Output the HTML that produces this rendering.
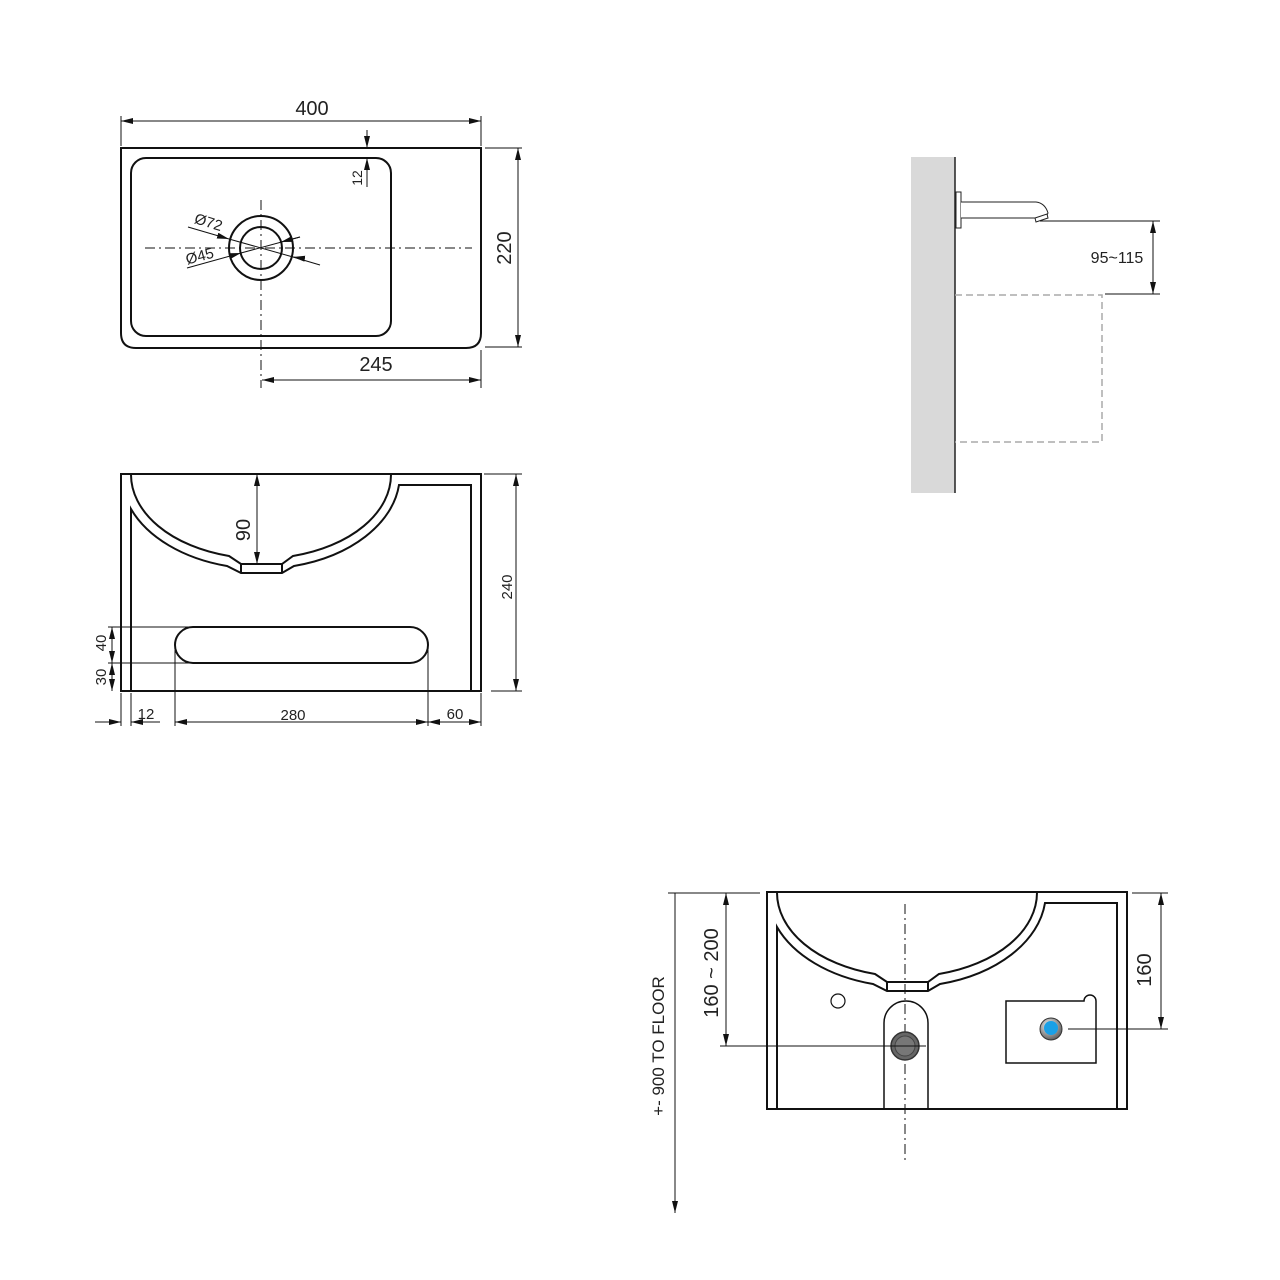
<!DOCTYPE html>
<html><head><meta charset="utf-8"><style>
html,body{margin:0;padding:0;background:#fff;}
svg{display:block;}
text{font-family:"Liberation Sans",Arial,sans-serif;fill:#222;}
</style></head><body>
<svg width="1280" height="1280" viewBox="0 0 1280 1280" xmlns="http://www.w3.org/2000/svg">
<defs>
<marker id="a" viewBox="0 0 12 6" refX="12" refY="3" markerWidth="12" markerHeight="6" markerUnits="userSpaceOnUse" orient="auto-start-reverse"><path d="M0,0 L12,3 L0,6 Z" fill="#111"/></marker>
<radialGradient id="gb" cx="0.4" cy="0.35" r="0.7"><stop offset="0" stop-color="#f4f4f4"/><stop offset="1" stop-color="#555"/></radialGradient>
</defs>

<!-- ============ TOP VIEW ============ -->
<g fill="none" stroke="#111">
<path d="M121,148 L481,148 L481,333 Q481,348 466,348 L136,348 Q121,348 121,333 Z" stroke-width="2"/>
<rect x="131" y="158" width="260" height="178" rx="15" stroke-width="2"/>
<circle cx="261" cy="248" r="32" stroke-width="2"/>
<circle cx="261" cy="248" r="21" stroke-width="2"/>
<g stroke-width="1" stroke-dasharray="10,4,2,4">
<line x1="145" y1="248" x2="472" y2="248"/>
<line x1="261" y1="200" x2="261" y2="388"/>
</g>
<g stroke-width="1">
<!-- 400 -->
<line x1="121" y1="116" x2="121" y2="146"/><line x1="481" y1="116" x2="481" y2="146"/>
<line x1="121" y1="121" x2="481" y2="121" marker-start="url(#a)" marker-end="url(#a)"/>
<!-- 12 -->
<line x1="367" y1="130" x2="367" y2="148" marker-end="url(#a)"/>
<line x1="367" y1="187" x2="367" y2="158" marker-end="url(#a)"/>
<!-- 220 -->
<line x1="485" y1="148" x2="522" y2="148"/><line x1="485" y1="347" x2="522" y2="347"/>
<line x1="518" y1="148" x2="518" y2="347" marker-start="url(#a)" marker-end="url(#a)"/>
<!-- 245 -->
<line x1="481" y1="350" x2="481" y2="388"/>
<line x1="262" y1="380" x2="481" y2="380" marker-start="url(#a)" marker-end="url(#a)"/>
<!-- diameters -->
<line x1="188" y1="227" x2="229" y2="239" marker-end="url(#a)"/>
<line x1="320" y1="265" x2="293" y2="257" />
<line x1="300" y1="258" x2="293" y2="257" marker-end="url(#a)"/>
<line x1="229" y1="239" x2="293" y2="257"/>
<line x1="187" y1="268" x2="241" y2="253" marker-end="url(#a)"/>
<line x1="241" y1="253" x2="300" y2="237"/>
<line x1="300" y1="237" x2="281" y2="242" marker-end="url(#a)"/>
</g>
</g>
<text x="312" y="115" font-size="20" text-anchor="middle">400</text>
<text transform="translate(362,178) rotate(-90)" font-size="14" text-anchor="middle">12</text>
<text transform="translate(511,248) rotate(-90)" font-size="20" text-anchor="middle">220</text>
<text x="376" y="371" font-size="20" text-anchor="middle">245</text>
<text transform="translate(207,227) rotate(17)" font-size="15" text-anchor="middle">Ø72</text>
<text transform="translate(201,261) rotate(-15)" font-size="15" text-anchor="middle">Ø45</text>

<!-- ============ FRONT VIEW ============ -->
<g id="bowl" fill="none" stroke="#111" stroke-width="2">
<path d="M121,691 L121,474 L481,474 L481,691 Z"/>
<path d="M131,474 A130,84 0 0 0 229,556 L241,564 L282,564 L293,556 A130,84 0 0 0 391,474"/>
<path d="M131,691 L131,509 A140,94 0 0 0 227,566 L241,573 L282,573 L294,566 A140,94 0 0 0 399,485 L471,485 L471,691"/>
<line x1="241" y1="564" x2="241" y2="573"/><line x1="282" y1="564" x2="282" y2="573"/>
</g>
<g fill="none" stroke="#111">
<path d="M193,627 L410,627 A18,18 0 0 1 410,663 L193,663 A18,18 0 0 1 193,627 Z" stroke-width="2"/>
<g stroke-width="1">
<line x1="257" y1="474" x2="257" y2="564" marker-start="url(#a)" marker-end="url(#a)"/>
<line x1="484" y1="474" x2="522" y2="474"/><line x1="491" y1="691" x2="522" y2="691"/>
<line x1="516" y1="474" x2="516" y2="691" marker-start="url(#a)" marker-end="url(#a)"/>
<line x1="108" y1="627" x2="193" y2="627"/><line x1="108" y1="663" x2="193" y2="663"/>
<line x1="112" y1="627" x2="112" y2="663" marker-start="url(#a)" marker-end="url(#a)"/>
<line x1="112" y1="663" x2="112" y2="691" marker-start="url(#a)" marker-end="url(#a)"/>
<line x1="121" y1="693" x2="121" y2="726"/><line x1="131" y1="693" x2="131" y2="726"/>
<line x1="175" y1="650" x2="175" y2="726"/><line x1="428" y1="650" x2="428" y2="726"/>
<line x1="481" y1="693" x2="481" y2="726"/>
<line x1="95" y1="722" x2="121" y2="722" marker-end="url(#a)"/>
<line x1="160" y1="722" x2="131" y2="722" marker-end="url(#a)"/>
<line x1="175" y1="722" x2="428" y2="722" marker-start="url(#a)" marker-end="url(#a)"/>
<line x1="428" y1="722" x2="481" y2="722" marker-start="url(#a)" marker-end="url(#a)"/>
</g>
</g>
<text transform="translate(250,530) rotate(-90)" font-size="20" text-anchor="middle">90</text>
<text transform="translate(512,587) rotate(-90)" font-size="15" text-anchor="middle">240</text>
<text transform="translate(106,643) rotate(-90)" font-size="15" text-anchor="middle">40</text>
<text transform="translate(106,677) rotate(-90)" font-size="15" text-anchor="middle">30</text>
<text x="146" y="719" font-size="15" text-anchor="middle">12</text>
<text x="293" y="720" font-size="15" text-anchor="middle">280</text>
<text x="455" y="719" font-size="15" text-anchor="middle">60</text>

<!-- ============ SIDE VIEW ============ -->
<rect x="911" y="157" width="44" height="336" fill="#d9d9d9"/>
<line x1="955" y1="157" x2="955" y2="493" stroke="#222" stroke-width="1.5"/>
<rect x="956" y="192" width="5" height="36" fill="#fff" stroke="#222" stroke-width="1"/>
<path d="M961,202 L1036,202 Q1045,203 1048,213 L1047,215 L1036,218 L961,218" fill="#fff" stroke="#222" stroke-width="1"/>
<path d="M1035,218 L1047,214 L1048,218 L1036,222 Z" fill="#fff" stroke="#222" stroke-width="1"/>
<path d="M955,295 L1102,295 L1102,442 L955,442" fill="none" stroke="#aaa" stroke-width="1.5" stroke-dasharray="7,4"/>
<g stroke="#111" stroke-width="1">
<line x1="1040" y1="221" x2="1160" y2="221"/>
<line x1="1105" y1="294" x2="1160" y2="294"/>
<line x1="1153" y1="221" x2="1153" y2="294" marker-start="url(#a)" marker-end="url(#a)"/>
</g>
<text x="1117" y="263" font-size="16" text-anchor="middle">95~115</text>

<!-- ============ BOTTOM VIEW ============ -->
<use href="#bowl" transform="translate(646,418)"/>
<g fill="none" stroke="#111">
<circle cx="838" cy="1001" r="7" stroke-width="1.2"/>
<path d="M884,1109 L884,1023 A22,22 0 0 1 928,1023 L928,1109" stroke-width="1.5"/>
<path d="M1006,1001 L1084,1001 A6,6 0 1 1 1096,1001 L1096,1063 L1006,1063 Z" stroke-width="1.5"/>
<line x1="905" y1="904" x2="905" y2="1160" stroke-width="1" stroke-dasharray="10,4,2,4"/>
</g>
<circle cx="905" cy="1046" r="14" fill="#666" stroke="#333" stroke-width="1.5"/>
<circle cx="905" cy="1046" r="10" fill="#777" stroke="#444" stroke-width="1"/>
<circle cx="1051" cy="1029" r="11" fill="url(#gb)" stroke="#333" stroke-width="1"/>
<circle cx="1051" cy="1028" r="7" fill="#1aa0e6"/>
<g stroke="#111" stroke-width="1" fill="none">
<line x1="668" y1="893" x2="760" y2="893"/>
<line x1="675" y1="893" x2="675" y2="1213" marker-end="url(#a)"/>
<line x1="720" y1="1046" x2="926" y2="1046"/>
<line x1="726" y1="893" x2="726" y2="1046" marker-start="url(#a)" marker-end="url(#a)"/>
<line x1="1132" y1="893" x2="1168" y2="893"/>
<line x1="1068" y1="1029" x2="1168" y2="1029"/>
<line x1="1161" y1="893" x2="1161" y2="1029" marker-start="url(#a)" marker-end="url(#a)"/>
</g>
<text transform="translate(664,1046) rotate(-90)" font-size="17" text-anchor="middle">+- 900 TO FLOOR</text>
<text transform="translate(718,973) rotate(-90)" font-size="20" text-anchor="middle">160 ~ 200</text>
<text transform="translate(1151,970) rotate(-90)" font-size="20" text-anchor="middle">160</text>
</svg>
</body></html>
